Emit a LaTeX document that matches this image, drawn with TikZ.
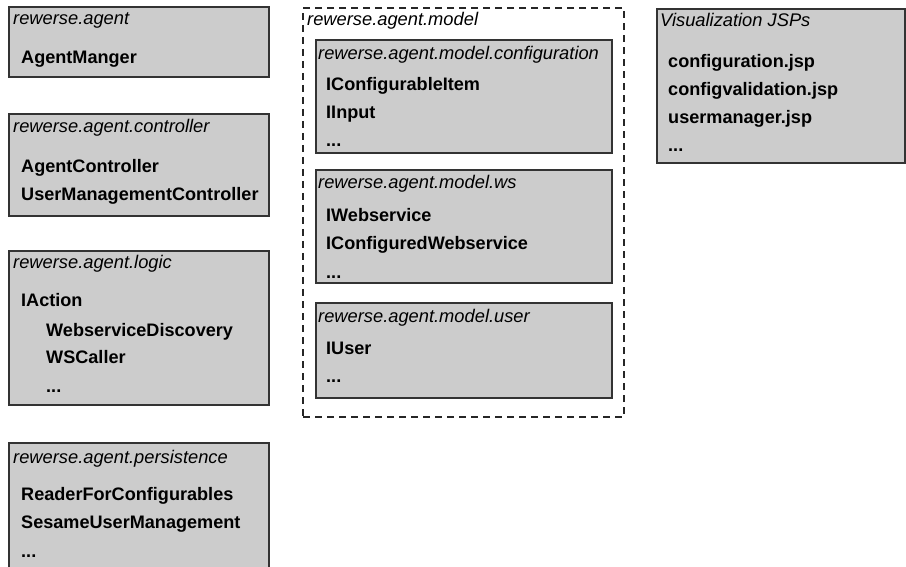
\documentclass[tikz,border=0pt]{standalone}
\usepackage{fontspec}
\setmainfont{Liberation Sans}
\definecolor{pkgfill}{RGB}{204,204,204}
\definecolor{pkgline}{RGB}{51,51,51}
\begin{document}
\begin{tikzpicture}[x=1pt,y=-1pt,
  pkg/.style={draw=pkgline, fill=pkgfill, line width=1.3pt, anchor=north west,
              inner sep=0pt, outer sep=0pt},
  group/.style={draw=black!85, line width=1.1pt, dash pattern=on 7pt off 5pt,
                anchor=north west, inner sep=0pt, outer sep=0pt},
  head/.style={anchor=base west, inner sep=0pt, font=\fontsize{18.3}{21}\selectfont\itshape},
  item/.style={anchor=base west, inner sep=0pt, font=\fontsize{18.1}{21}\selectfont\bfseries}]
\useasboundingbox (0,0) rectangle (906,567);
\begin{scope}
\clip (0,0) rectangle (906,567);

% left column: packages
\node[pkg, minimum width=260pt, minimum height=70pt] (agent) at (9,7) {};
\node[head] (agentH) at (13,25) {rewerse.agent};
\node[item] (agentA) at (21,64) {AgentManger};

\node[pkg, minimum width=260pt, minimum height=102pt] (ctrl) at (9,114) {};
\node[head] (ctrlH) at (13,133) {rewerse.agent.controller};
\node[item] (ctrlA) at (21,173) {AgentController};
\node[item] (ctrlB) at (21,201) {UserManagementController};

\node[pkg, minimum width=260pt, minimum height=154pt] (logic) at (9,251) {};
\node[head] (logicH) at (13,269) {rewerse.agent.logic};
\node[item] (logicA) at (21,306) {IAction};
\node[item] (logicB) at (46,336) {WebserviceDiscovery};
\node[item] (logicC) at (46,363) {WSCaller};
\node[item] (logicD) at (46,392) {...};

\node[pkg, minimum width=260pt, minimum height=140pt] (pers) at (9,443) {};
\node[head] (persH) at (13,463) {rewerse.agent.persistence};
\node[item] (persA) at (21,500) {ReaderForConfigurables};
\node[item] (persB) at (21,528) {SesameUserManagement};
\node[item] (persC) at (21,557) {...};

% middle column: model group with sub-packages
\node[group, minimum width=321pt, minimum height=409pt] (model) at (303,8) {};
\node[head] (modelH) at (307,26) {rewerse.agent.model};

\node[pkg, minimum width=296pt, minimum height=113pt] (conf) at (316,40) {};
\node[head] (confH) at (318,60) {rewerse.agent.model.configuration};
\node[item] (confA) at (326,91) {IConfigurableItem};
\node[item] (confB) at (326,119) {IInput};
\node[item] (confC) at (326,147) {...};

\node[pkg, minimum width=296pt, minimum height=113pt] (ws) at (316,170) {};
\node[head] (wsH) at (318,189) {rewerse.agent.model.ws};
\node[item] (wsA) at (326,222) {IWebservice};
\node[item] (wsB) at (326,250) {IConfiguredWebservice};
\node[item] (wsC) at (326,278) {...};

\node[pkg, minimum width=296pt, minimum height=95pt] (user) at (316,303) {};
\node[head] (userH) at (318,322) {rewerse.agent.model.user};
\node[item] (userA) at (326,354) {IUser};
\node[item] (userB) at (326,382) {...};

% right column: JSP pages
\node[pkg, minimum width=248pt, minimum height=154pt] (vis) at (657,9) {};
\node[head] (visH) at (660,27) {Visualization JSPs};
\node[item] (visA) at (668,68) {configuration.jsp};
\node[item] (visB) at (668,96) {configvalidation.jsp};
\node[item] (visC) at (668,124) {usermanager.jsp};
\node[item] (visD) at (668,152) {...};
\end{scope}
\end{tikzpicture}
\end{document}
